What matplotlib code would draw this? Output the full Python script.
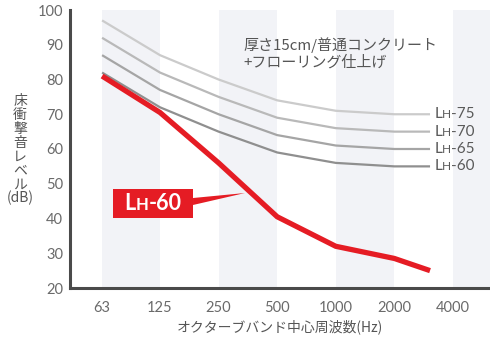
import matplotlib
matplotlib.use("Agg")
import matplotlib.pyplot as plt
from matplotlib.offsetbox import TextArea, HPacker, AnnotationBbox
from matplotlib.patches import Rectangle, Polygon

plt.rcParams['font.family'] = ['Noto Sans CJK JP', 'DejaVu Sans']

# Octave-band centre frequencies (Hz) and their axis labels
freq_ticks = [63, 125, 250, 500, 1000, 2000, 4000]
freq_labels = ["63", "125", "250", "500", "1000", "2000", "4000"]
# Frequencies at which the curves are drawn (last point ends before the 4000 column)
curve_freqs = [63, 125, 250, 500, 1000, 2000, 3050]

# Reference rating curves (dB)
lh75 = [97, 87, 80, 74, 71, 70, 70]
lh70 = [92, 82, 75, 69, 66, 65, 65]
lh65 = [87, 77, 70, 64, 61, 60, 60]
lh60 = [82, 72, 65, 59, 56, 55, 55]
# Measured floor impact level (dB)
measured = [81, 70.5, 56, 40.5, 32, 28.5, 25]

ref_curves = [lh75, lh70, lh65, lh60]
ref_numbers = ["75", "70", "65", "60"]
ref_colors = ["#cbcbcb", "#b9b9b9", "#a5a5a5", "#8f8f8f"]

shaded_bands = [(63, 125), (250, 500), (1000, 2000), (4000, 8000)]

RED = "#e51c24"
TEXT = "#555555"
num_font = ['Lato', 'DejaVu Sans']

fig = plt.figure(figsize=(4.9, 3.4), dpi=100)
ax = fig.add_axes([70 / 490, 52 / 340, 420 / 490, 278 / 340])

ax.set_xscale('log', base=2)
ax.set_xlim(43.1, 6200)
ax.set_ylim(20, 100)

for lo, hi in shaded_bands:
    ax.axvspan(lo, hi, color="#f2f3f7", lw=0, zorder=0)

for vals, col in zip(ref_curves, ref_colors):
    ax.plot(curve_freqs, vals, color=col, lw=1.6, solid_capstyle='butt', zorder=2)

ax.plot(curve_freqs, measured, color=RED, lw=3.8, solid_capstyle='butt',
        solid_joinstyle='miter', zorder=3)


def small_caps_label(num, size, small, color, weight='normal'):
    props = dict(size=size, color=color, weight=weight, family=num_font)
    sprops = dict(size=small, color=color, weight=weight, family=num_font)
    return HPacker(children=[TextArea("L", textprops=props),
                             TextArea("H", textprops=sprops),
                             TextArea("-" + num, textprops=props)],
                   align="baseline", pad=0, sep=0)


# End labels for reference curves
for vals, num in zip(ref_curves, ref_numbers):
    ab = AnnotationBbox(small_caps_label(num, 11, 8.5, "#5a5a5a", 'normal'),
                        (curve_freqs[-1], vals[-1]), xycoords='data',
                        xybox=(3, 0), boxcoords='offset points',
                        box_alignment=(0, 0.5), frameon=False, pad=0,
                        annotation_clip=False)
    ax.add_artist(ab)

# Callout for the measured curve
ax.add_patch(Rectangle((0.1024, 0.2518), 0.1905, 0.1042, transform=ax.transAxes,
                       facecolor=RED, edgecolor='none', zorder=4))
ax.add_patch(Polygon([(0.2929, 0.3237), (0.2929, 0.2986), (0.4167, 0.3417)],
                     closed=True, transform=ax.transAxes,
                     facecolor=RED, edgecolor='none', zorder=4))
cb = AnnotationBbox(small_caps_label("60", 15.5, 12, "white", 'bold'),
                    (0.1976, 0.304), xycoords='axes fraction',
                    box_alignment=(0.5, 0.5), frameon=False, pad=0)
cb.set_zorder(5)
ax.add_artist(cb)

# Condition note
ax.text(0.412, 0.845, "厚さ15cm/普通コンクリート\n+フローリング仕上げ",
        transform=ax.transAxes, ha='left', va='center', multialignment='left',
        fontsize=10.8, color=TEXT, linespacing=1.2, zorder=5)

# Axes styling
for side in ['top', 'right']:
    ax.spines[side].set_visible(False)
for side in ['left', 'bottom']:
    ax.spines[side].set_color("#4a4a4a")
    ax.spines[side].set_linewidth(2.2)
    ax.spines[side].set_zorder(6)

ax.set_xticks(freq_ticks)
ax.set_xticklabels(freq_labels)
ax.minorticks_off()
ax.set_yticks(range(20, 101, 10))
ax.tick_params(length=0, colors=TEXT, labelsize=10.5)
ax.tick_params(axis='x', pad=9)
ax.tick_params(axis='y', pad=5)
for lab in ax.get_xticklabels() + ax.get_yticklabels():
    lab.set_family(num_font)
    lab.set_fontweight('normal')
    lab.set_color("#6a6a6a")

fig.text(280 / 490, 1 - 327 / 340, "オクターブバンド中心周波数(Hz)",
         ha='center', va='center', fontsize=10, color=TEXT)
fig.text(20 / 490, 1 - 150 / 340, "床\n衝\n撃\n音\nレ\nベ\nル\n(dB)",
         ha='center', va='center', fontsize=10, color=TEXT, linespacing=0.98)

fig.savefig("out.png", dpi=100)
